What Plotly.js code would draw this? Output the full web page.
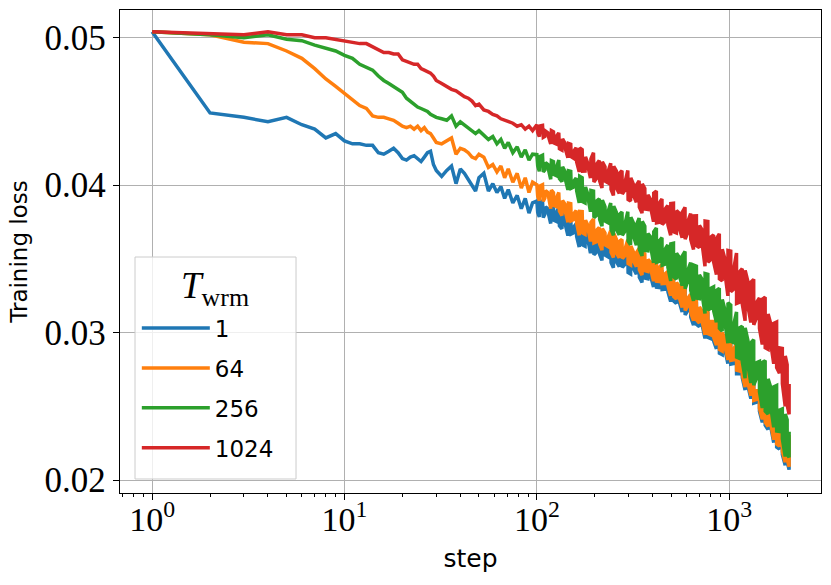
<!DOCTYPE html>
<html>
<head>
<meta charset="utf-8">
<script src="https://cdn.plot.ly/plotly-3.0.1.min.js"></script>
<style>
  body { margin: 0; background: #fff; }
  #chart { width: 831px; height: 585px; }
</style>
</head>
<body>
<div id="chart"></div>
<script>
// training steps (log axis).
// past step 100 every sample is a pair of neighbouring steps (high and low of the noise)
var steps = [
    1,2,3,4,5,6,7,8,9,10,11,12,13,14,15,16,17,18,19,
    20,21,22,23,24,25,26,27,28,29,30,32,34,36,38,40,42,44,46,48,50,53,56,59,62,65,68,71,75,79,83,87,91,95,
    100,101,103,104,107,108,110,111,114,115,118,119,122,123,126,127,130,131,135,136,
    140,141,145,146,150,151,155,156,160,161,166,167,172,173,178,179,184,185,190,191,
    197,198,204,205,211,212,218,219,226,227,234,235,242,243,250,251,259,260,268,269,
    277,278,287,288,297,298,307,308,318,319,329,330,340,341,352,353,364,365,377,378,
    390,391,404,405,418,419,432,433,447,448,463,464,479,480,496,497,513,514,531,532,
    550,551,569,570,589,590,609,610,630,631,652,653,675,676,699,700,723,724,748,749,
    774,775,801,802,829,830,858,859,888,889,919,920,951,952,984,985,1018,1019,1054,1055,
    1091,1092,1129,1130,1168,1169,1209,1210,1251,1252,1295,1296,1340,1341,1387,1388,1435,1436,1485,1486,
    1537,1538,1591,1592,1646,1647,1703,1704,1763,1764,1824,1825,1888,1889,1954,1955,2000,2001,2047,2048
];

var warmups = ["1", "64", "256", "1024"];
var colors = ["#1f77b4", "#ff7f0e", "#2ca02c", "#d62728"];

var xTickVals = [1, 10, 100, 1000];
var xTickText = ["10<sup>0</sup>", "10<sup>1</sup>", "10<sup>2</sup>", "10<sup>3</sup>"];
var xMinorVals = [0.7,0.8,0.9,2,3,4,5,6,7,8,9,20,30,40,50,60,70,80,90,200,300,400,500,600,700,800,900,2000];

var loss1 = [
    0.0504,0.0449,0.0446,0.0443,0.0446,0.0441,0.0438,0.0432,0.0435,0.0430,0.0428,0.0428,0.0427,0.0427,0.0422,0.0421,0.0423,0.0425,0.0422,
    0.0418,0.0417,0.0419,0.0420,0.0418,0.0416,0.0419,0.0422,0.0423,0.0414,0.0410,0.0406,0.0410,0.0413,0.0401,0.0411,0.0408,0.0404,0.0400,0.0396,
    0.0405,0.0408,0.0396,0.0401,0.0395,0.0399,0.0391,0.0397,0.0388,0.0393,0.0384,0.0391,0.0381,0.0388,
    0.03892,0.03816,0.03784,0.03885,0.03893,0.0378,0.03802,0.03852,0.03841,0.03803,
    0.0374,0.03866,0.03849,0.03761,0.03755,0.03818,0.0385,0.03724,0.03704,0.03805,
    0.03782,0.03724,0.03658,0.03788,0.03784,0.03669,0.03676,0.03719,0.03738,0.03652,
    0.0358,0.03742,0.03741,0.03595,0.03586,0.03683,0.03648,0.03616,0.03538,0.03668,
    0.0369,0.03528,0.03545,0.03626,0.03643,0.0353,0.03489,0.03635,0.03605,0.03524,
    0.03514,0.03579,0.03621,0.03475,0.0344,0.03602,0.03574,0.03477,0.03447,0.0356,
    0.03572,0.03442,0.03463,0.03512,0.0357,0.03408,0.03398,0.03528,0.03496,0.03431,
    0.03396,0.03493,0.03521,0.03375,0.0334,0.03502,0.03483,0.0337,0.03365,0.03446,
    0.03427,0.03378,0.03309,0.03455,0.0347,0.03308,0.03306,0.03403,0.03422,0.03292,
    0.03294,0.03359,0.03374,0.03277,0.0321,0.03372,0.03361,0.03215,0.03197,0.0331,
    0.03285,0.03204,0.0314,0.03284,0.0330,0.0312,0.0315,0.03204,0.0323,0.03104,
    0.0305,0.03212,0.0320,0.03056,0.0304,0.03148,0.0312,0.03048,0.0296,0.0314,
    0.0313,0.02968,0.0296,0.0305,0.0305,0.02942,0.0289,0.03034,0.0304,0.0286,
    0.0285,0.02976,0.0293,0.02876,0.0279,0.02952,0.0293,0.02786,0.0279,0.02862,
    0.0290,0.0272,0.0272,0.02828,0.0282,0.02694,0.0261,0.02808,0.02735,0.02636,
    0.02552,0.0271,0.02699,0.02521,0.02527,0.02586,0.02586,0.02467,0.02391,0.02569,
    0.0257,0.02372,0.02343,0.02482,0.02434,0.02355,0.02254,0.02427,0.02418,0.02224,
    0.0221,0.02318,0.02324,0.02173,0.0210,0.02316,0.02296,0.02123,0.0207,0.02286
];

var loss64 = [
    0.0504,0.0502,0.0497,0.0496,0.0491,0.0486,0.0479,0.0472,0.0467,0.0462,0.0458,0.0454,0.0452,0.0447,0.0446,0.0446,0.0445,0.0444,0.0442,
    0.0440,0.0439,0.0440,0.0438,0.0440,0.0437,0.0439,0.0436,0.0435,0.0432,0.0429,0.0428,0.0430,0.0432,0.0421,0.0425,0.0424,0.0422,0.0419,0.0418,
    0.0421,0.0419,0.0412,0.0414,0.0409,0.0413,0.0405,0.0411,0.0402,0.0408,0.0398,0.0405,0.0395,0.0402,
    0.04002,0.03926,0.03894,0.03995,0.04003,0.0389,0.03912,0.03962,0.03951,0.03913,
    0.0384,0.03966,0.03949,0.03861,0.03855,0.03918,0.0395,0.03824,0.03794,0.03895,
    0.03872,0.03814,0.03748,0.03878,0.03874,0.03759,0.03766,0.03809,0.03828,0.03742,
    0.0366,0.03822,0.03821,0.03675,0.03666,0.03763,0.03728,0.03696,0.03618,0.03748,
    0.0377,0.03608,0.03615,0.03696,0.03713,0.036,0.03559,0.03705,0.03675,0.03594,
    0.03584,0.03649,0.03691,0.03545,0.0351,0.03672,0.03634,0.03537,0.03507,0.0362,
    0.03632,0.03502,0.03523,0.03572,0.0363,0.03468,0.03458,0.03588,0.03546,0.03481,
    0.03446,0.03543,0.03571,0.03425,0.0339,0.03552,0.03533,0.0342,0.03415,0.03496,
    0.03477,0.03428,0.03349,0.03495,0.0351,0.03348,0.03346,0.03443,0.03462,0.03332,
    0.03334,0.03399,0.03414,0.03317,0.0325,0.03412,0.03391,0.03245,0.03227,0.0334,
    0.03315,0.03234,0.0317,0.03314,0.0333,0.0315,0.0318,0.03234,0.0326,0.03134,
    0.0308,0.03242,0.0323,0.03086,0.03065,0.03173,0.03145,0.03073,0.02985,0.03165,
    0.03155,0.02993,0.02985,0.03075,0.03075,0.02967,0.02915,0.03059,0.03065,0.02885,
    0.02875,0.03001,0.02955,0.02901,0.02815,0.02977,0.02955,0.02811,0.02815,0.02887,
    0.02925,0.02745,0.0274,0.02848,0.0284,0.02714,0.0263,0.02828,0.02755,0.02656,
    0.02572,0.0273,0.02719,0.02541,0.02547,0.02606,0.02606,0.02487,0.02411,0.02589,
    0.0259,0.02392,0.02363,0.02502,0.02454,0.02375,0.02274,0.02447,0.02438,0.02244,
    0.0223,0.02338,0.02344,0.02193,0.0212,0.02336,0.02316,0.02143,0.0209,0.02306
];

var loss256 = [
    0.0504,0.0502,0.0500,0.0502,0.0499,0.0498,0.0495,0.0493,0.0491,0.0488,0.0486,0.0482,0.0480,0.0478,0.0474,0.0471,0.0469,0.0467,0.0465,
    0.0463,0.0459,0.0457,0.0455,0.0453,0.0452,0.0451,0.0450,0.0448,0.0447,0.0446,0.0445,0.0444,0.0447,0.0440,0.0443,0.0441,0.0439,0.0437,0.0435,
    0.0437,0.0434,0.0431,0.0433,0.0428,0.0431,0.0425,0.0429,0.0422,0.0426,0.0419,0.0424,0.0417,0.0421,
    0.04207,0.04131,0.04094,0.04195,0.04203,0.0409,0.04102,0.04152,0.04141,0.04103,
    0.0404,0.04166,0.04159,0.04071,0.04065,0.04128,0.0417,0.04044,0.04024,0.04125,
    0.04092,0.04034,0.03968,0.04098,0.04094,0.03979,0.03986,0.04029,0.04048,0.03962,
    0.0388,0.0406,0.0405,0.03888,0.0388,0.03988,0.0394,0.03904,0.0382,0.03964,
    0.0396,0.0378,0.03795,0.03894,0.03907,0.03768,0.03721,0.03899,0.03855,0.03756,
    0.03746,0.03825,0.03879,0.03701,0.0366,0.03858,0.03816,0.03697,0.03663,0.03802,
    0.03818,0.0366,0.03687,0.03746,0.0382,0.03622,0.03596,0.03783,0.03742,0.03648,
    0.03592,0.03732,0.03777,0.03566,0.0352,0.03754,0.03721,0.03557,0.03555,0.03672,
    0.03649,0.03579,0.03473,0.03684,0.0371,0.03476,0.03482,0.03622,0.03644,0.03457,
    0.03464,0.03565,0.03594,0.03443,0.0335,0.03602,0.03606,0.03379,0.03362,0.03538,
    0.0351,0.03384,0.03318,0.0352,0.0355,0.03298,0.03348,0.03424,0.03475,0.03286,
    0.03215,0.03458,0.0345,0.03234,0.0323,0.03392,0.0336,0.03252,0.0313,0.034,
    0.03395,0.03152,0.03165,0.033,0.0331,0.03148,0.0307,0.03286,0.0330,0.0303,
    0.03011,0.03225,0.03151,0.03059,0.02927,0.03202,0.03186,0.02941,0.02932,0.03054,
    0.0314,0.02834,0.02826,0.03031,0.03043,0.02804,0.0269,0.03032,0.02945,0.02774,
    0.02658,0.02932,0.02951,0.02643,0.02693,0.02796,0.02804,0.02599,0.02489,0.02797,
    0.0281,0.02468,0.02447,0.02686,0.02626,0.02489,0.02358,0.02632,0.02641,0.02333,
    0.0233,0.02474,0.02482,0.0228,0.0216,0.02448,0.02408,0.02178,0.02154,0.02327
];

var loss1024 = [
    0.0504,0.0503,0.0502,0.0504,0.0502,0.0502,0.0500,0.0500,0.0499,0.0498,0.0497,0.0496,0.0496,0.0494,0.0492,0.0490,0.0490,0.0489,0.0489,
    0.0485,0.0484,0.0483,0.0482,0.0482,0.0479,0.0478,0.0477,0.0476,0.0474,0.0471,0.0469,0.0467,0.0465,0.0464,0.0462,0.0460,0.0459,0.0457,0.0454,
    0.0455,0.0451,0.0450,0.0448,0.0447,0.0445,0.0444,0.0443,0.0442,0.0440,0.0441,0.0438,0.0440,0.0437,
    0.0441,0.04356,0.0433,0.04402,0.04405,0.04324,0.0433,0.04366,0.04355,0.04328,
    0.0428,0.0437,0.04362,0.04286,0.0428,0.04334,0.04355,0.04247,0.04238,0.04314,
    0.04284,0.04241,0.04186,0.04283,0.04278,0.04192,0.04183,0.04232,0.04254,0.04157,
    0.0409,0.04252,0.04241,0.04095,0.04096,0.04193,0.04148,0.04116,0.04048,0.04178,
    0.0422,0.04022,0.04045,0.04144,0.04167,0.04028,0.03981,0.04159,0.04125,0.04026,
    0.04016,0.04095,0.04149,0.03971,0.0393,0.04128,0.04096,0.03977,0.03943,0.04082,
    0.04098,0.0394,0.03967,0.04026,0.041,0.03902,0.03892,0.0405,0.04004,0.03925,
    0.03884,0.04003,0.04029,0.03851,0.0381,0.04008,0.03977,0.03838,0.03835,0.03934,
    0.03903,0.03844,0.03752,0.03946,0.0396,0.03744,0.03748,0.03878,0.03906,0.03733,
    0.03752,0.03838,0.03862,0.03732,0.0366,0.03876,0.03878,0.03684,0.03676,0.03827,
    0.0381,0.03702,0.03644,0.03817,0.0385,0.03634,0.03678,0.03754,0.03808,0.03632,
    0.03564,0.03791,0.03792,0.0359,0.03576,0.03727,0.03696,0.03595,0.0345,0.03756,
    0.03753,0.03478,0.03495,0.03648,0.03662,0.03478,0.03394,0.03639,0.0367,0.03364,
    0.03351,0.03565,0.03497,0.03394,0.03249,0.03557,0.03552,0.03278,0.03294,0.03431,
    0.0354,0.03198,0.03206,0.03411,0.03433,0.03194,0.0308,0.03422,0.03345,0.03174,
    0.03068,0.03342,0.03361,0.03053,0.03103,0.03206,0.03234,0.03029,0.02919,0.03227,
    0.0324,0.02898,0.02887,0.03126,0.03056,0.02919,0.02788,0.03062,0.03071,0.02763,
    0.02725,0.02896,0.02893,0.02654,0.025,0.02842,0.02782,0.02508,0.02446,0.02651
];

var series = [loss1, loss64, loss256, loss1024];

var serif = "Liberation Serif, DejaVu Serif, serif";
var sans = "DejaVu Sans, sans-serif";

var data = [];
for (var i = 0; i < series.length; i++) {
    data.push({
        x: steps,
        y: series[i],
        name: warmups[i],
        legendgroup: "g" + i,
        type: "scatter",
        mode: "lines",
        line: {color: colors[i], width: 3.5}
    });
}

var layout = {
    width: 831,
    height: 585,
    margin: {l: 120, r: 10, t: 10, b: 92},
    paper_bgcolor: "#fff",
    plot_bgcolor: "#fff",
    showlegend: true,
    // legend entries only; its frame and title are drawn as a shape and an annotation
    legend: {
        x: 0.024, y: 0.386,
        xanchor: "left", yanchor: "top",
        bgcolor: "rgba(0,0,0,0)",
        borderwidth: 0,
        font: {family: sans, size: 23, color: "#000"},
        tracegroupgap: 7,
        itemwidth: 68
    },
    shapes: [{
        type: "rect", xref: "paper", yref: "paper",
        x0: 0.0214, x1: 0.2511, y0: 0.029, y1: 0.4886,
        line: {color: "#cccccc", width: 1},
        fillcolor: "rgba(255,255,255,0.8)",
        layer: "above"
    }],
    annotations: [{
        text: "<i>T</i><sub>wrm</sub>",
        xref: "paper", yref: "paper",
        x: 0.1355, y: 0.424,
        xanchor: "center", yanchor: "middle",
        showarrow: false,
        font: {family: serif, size: 37, color: "#000"}
    }],
    xaxis: {
        type: "log",
        range: [-0.167, 3.477],
        tickmode: "array",
        tickvals: xTickVals,
        ticktext: xTickText,
        showgrid: true,
        gridcolor: "#b0b0b0",
        gridwidth: 1,
        zeroline: false,
        showline: true,
        mirror: true,
        linecolor: "#000",
        linewidth: 1.3,
        ticks: "outside",
        ticklen: 6,
        tickcolor: "#000",
        ticklabelstandoff: -10,
        minor: {tickmode: "array", tickvals: xMinorVals, ticks: "outside", ticklen: 3, tickcolor: "#000", showgrid: false},
        tickfont: {family: serif, size: 34, color: "#000"},
        title: {text: "step", font: {family: sans, size: 25, color: "#000"}, standoff: 12}
    },
    yaxis: {
        range: [0.01912, 0.05188],
        tick0: 0.02,
        dtick: 0.01,
        tickformat: ".2f",
        showgrid: true,
        gridcolor: "#b0b0b0",
        gridwidth: 1,
        zeroline: false,
        showline: true,
        mirror: true,
        linecolor: "#000",
        linewidth: 1.3,
        ticks: "outside",
        ticklen: 6,
        tickcolor: "#000",
        tickfont: {family: serif, size: 35, color: "#000"},
        title: {text: "Training loss", font: {family: sans, size: 23, color: "#000"}, standoff: 10}
    }
};

Plotly.newPlot("chart", data, layout, {displayModeBar: false, staticPlot: true});
</script>
</body>
</html>
